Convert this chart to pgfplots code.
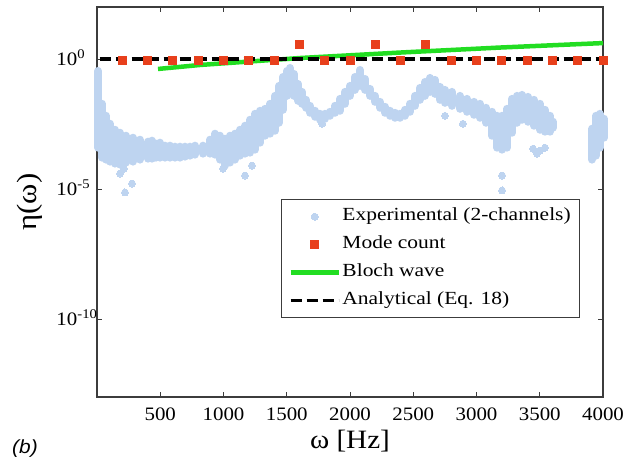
\documentclass[border=0pt]{standalone}
\usepackage{fontspec}
\setmainfont{Liberation Serif}[FakeStretch=1.1]
\newfontfamily\legfont{Liberation Serif}[FakeStretch=1.16]
\newfontfamily\bfont{Liberation Sans}[FakeStretch=1.1]
\usepackage{pgfplots}
\usepackage{pgfplotstable}
\pgfplotsset{compat=1.18}
\definecolor{bandblue}{RGB}{190,212,240}
\definecolor{modered}{RGB}{232,64,28}
\definecolor{blochgreen}{RGB}{34,221,34}
\definecolor{axisgray}{RGB}{60,60,60}
\pgfplotsset{
  dotlegend/.style={legend image code/.code={\path[draw=none,fill=none] (0bp,0bp) -- (48bp,0bp); \draw[##1] plot coordinates {(24bp,0bp)};}},
  linelegend/.style={legend image code/.code={\draw[##1] (0bp,0bp) -- (48bp,0bp);}},
}
% experimental cloud: for each frequency, lowest and highest value of the dense point cloud
\pgfplotstableread{
x y
8 3.89e-4
8 3.47e-1
8 nan
40 1.61e-4
40 1.89e-2
40 nan
71 1.35e-4
71 6.55e-3
71 nan
103 1.13e-4
103 3.23e-3
103 nan
142 9.48e-5
142 1.90e-3
142 nan
182 8.68e-5
182 1.46e-3
182 nan
229 1.04e-4
229 1.12e-3
229 nan
285 1.13e-4
285 9.40e-4
285 nan
340 1.35e-4
340 7.88e-4
340 nan
403 1.47e-4
403 6.61e-4
403 nan
435 1.47e-4
435 7.22e-4
435 nan
466 1.61e-4
466 5.54e-4
466 nan
498 1.61e-4
498 6.05e-4
498 nan
538 1.61e-4
538 4.64e-4
538 nan
577 1.61e-4
577 4.64e-4
577 nan
617 1.61e-4
617 4.25e-4
617 nan
656 1.61e-4
656 4.25e-4
656 nan
696 1.76e-4
696 4.25e-4
696 nan
735 1.92e-4
735 4.25e-4
735 nan
775 2.10e-4
775 4.64e-4
775 nan
838 2.29e-4
838 4.64e-4
838 nan
893 2.29e-4
893 7.88e-4
893 nan
933 2.10e-4
933 1.34e-3
933 nan
972 1.35e-4
972 1.12e-3
972 nan
1012 7.95e-5
1012 8.61e-4
1012 nan
1051 1.04e-4
1051 1.12e-3
1051 nan
1091 1.35e-4
1091 1.34e-3
1091 nan
1130 1.92e-4
1130 1.90e-3
1130 nan
1170 2.29e-4
1170 2.71e-3
1170 nan
1209 2.50e-4
1209 4.60e-3
1209 nan
1249 3.26e-4
1249 7.81e-3
1249 nan
1289 6.05e-4
1289 1.02e-2
1289 nan
1328 1.12e-3
1328 1.21e-2
1328 nan
1368 1.34e-3
1368 1.89e-2
1368 nan
1407 1.74e-3
1407 3.82e-2
1407 nan
1439 3.53e-3
1439 9.24e-2
1439 nan
1470 1.11e-2
1470 2.04e-1
1470 nan
1502 3.82e-2
1502 3.47e-1
1502 nan
1526 6.49e-2
1526 4.52e-1
1526 nan
1557 3.82e-2
1557 2.66e-1
1557 nan
1589 2.46e-2
1589 1.10e-1
1589 nan
1621 1.89e-2
1621 5.44e-2
1621 nan
1652 1.33e-2
1652 2.69e-2
1652 nan
1684 8.53e-3
1684 1.58e-2
1684 nan
1723 6.00e-3
1723 1.02e-2
1723 nan
1763 4.60e-3
1763 7.81e-3
1763 nan
1802 5.02e-3
1802 7.81e-3
1802 nan
1842 6.55e-3
1842 9.32e-3
1842 nan
1881 8.53e-3
1881 1.58e-2
1881 nan
1921 1.02e-2
1921 2.93e-2
1921 nan
1960 1.89e-2
1960 5.44e-2
1960 nan
2000 3.82e-2
2000 9.24e-2
2000 nan
2039 6.49e-2
2039 2.04e-1
2039 nan
2079 9.24e-2
2079 3.79e-1
2079 nan
2119 6.49e-2
2119 1.71e-1
2119 nan
2158 3.82e-2
2158 7.09e-2
2158 nan
2198 2.25e-2
2198 3.82e-2
2198 nan
2237 1.33e-2
2237 2.25e-2
2237 nan
2277 8.53e-3
2277 1.45e-2
2277 nan
2316 6.55e-3
2316 1.02e-2
2316 nan
2356 5.49e-3
2356 8.53e-3
2356 nan
2395 5.49e-3
2395 7.81e-3
2395 nan
2435 6.55e-3
2435 1.11e-2
2435 nan
2474 9.32e-3
2474 1.89e-2
2474 nan
2514 1.58e-2
2514 3.82e-2
2514 nan
2553 2.69e-2
2553 7.74e-2
2553 nan
2593 3.82e-2
2593 1.31e-1
2593 nan
2632 5.44e-2
2632 1.87e-1
2632 nan
2672 4.56e-2
2672 1.57e-1
2672 nan
2711 2.69e-2
2711 8.46e-2
2711 nan
2751 2.06e-2
2751 6.49e-2
2751 nan
2806 1.58e-2
2806 5.44e-2
2806 nan
2870 1.21e-2
2870 3.82e-2
2870 nan
2925 9.32e-3
2925 2.93e-2
2925 nan
2980 7.15e-3
2980 2.25e-2
2980 nan
3028 5.49e-3
3028 1.89e-2
3028 nan
3075 3.53e-3
3075 1.33e-2
3075 nan
3122 1.12e-3
3122 9.32e-3
3122 nan
3162 3.89e-4
3162 6.55e-3
3162 nan
3202 3.26e-4
3202 6.55e-3
3202 nan
3241 3.89e-4
3241 1.21e-2
3241 nan
3281 1.46e-3
3281 2.93e-2
3281 nan
3320 3.53e-3
3320 3.82e-2
3320 nan
3360 4.60e-3
3360 4.17e-2
3360 nan
3407 3.86e-3
3407 3.50e-2
3407 nan
3454 2.71e-3
3454 2.69e-2
3454 nan
3502 1.90e-3
3502 1.89e-2
3502 nan
3541 1.60e-3
3541 1.11e-2
3541 nan
3581 1.60e-3
3581 6.55e-3
3581 nan
3605 2.27e-3
3605 3.86e-3
3605 nan
3913 1.35e-4
3913 2.08e-3
3913 nan
3945 1.92e-4
3945 6.55e-3
3945 nan
3976 3.89e-4
3976 7.81e-3
3976 nan
4008 9.40e-4
4008 5.02e-3
}\cloud
\pgfplotstableread{
x y
182 3.93e-5
213 6.10e-5
277 1.62e-5
221 7.34e-6
996 6.10e-5
1170 3.29e-5
1225 7.95e-5
2751 6.55e-3
2893 3.23e-3
3202 3.29e-5
3202 8.76e-6
1779 3.23e-3
3447 3.56e-4
3502 2.99e-4
3541 3.89e-4
3478 2.29e-4
}\outliers
\begin{document}
\begin{tikzpicture}
\useasboundingbox (-97bp,-63bp) rectangle (537bp,397bp);
\begin{axis}[
  at={(0,0)}, anchor=south west,
  scale only axis, width=506bp, height=390bp,
  xmin=0, xmax=4000, ymode=log, ymin=1e-13, ymax=1e2,
  clip=false,
  unbounded coords=jump,
  axis line style={axisgray, line width=1.2bp},
  every tick/.style={axisgray, line width=1bp},
  major tick length=5bp,
  tick align=inside,
  xtick={500,1000,...,4000},
  ytick={1e-10,1e-5,1},
  yticklabels={10\textsuperscript{-10},10\textsuperscript{-5},10\textsuperscript{0}},
  yminorticks=false, xminorticks=false,
  /pgf/number format/assume math mode=true,
  /pgf/number format/1000 sep={},
  tick label style={font=\fontsize{19bp}{22bp}\selectfont},
  xticklabel style={anchor=base, inner sep=0pt, yshift=-23bp},
  yticklabel style={anchor=base west, inner sep=0pt, xshift=-40.7bp, yshift=-6.5bp},
  xlabel={ω [Hz]},
  xlabel style={at={(rel axis cs:0.5,0)}, anchor=base, yshift=-51bp, inner sep=0pt, font=\fontsize{26.5bp}{30bp}\selectfont},
  legend style={at={(0.3636,0.5077)}, anchor=north west, draw=axisgray, line width=1bp, inner xsep=7bp, inner ysep=7bp, row sep=7.5bp,
    font=\legfont\fontsize{18.5bp}{21bp}\selectfont, nodes={inner sep=1.5bp, text height=13bp, text depth=4.5bp}},
  legend cell align=left,
]
% Experimental cloud
\addplot[forget plot, bandblue, line width=8bp, line cap=round] table {\cloud};
\addplot[forget plot, only marks, mark=*, mark size=3.5bp, mark options={line width=0pt, draw=bandblue, fill=bandblue}] table {\outliers};
\addlegendimage{only marks, mark=*, mark size=3.5bp, mark options={line width=0pt, draw=bandblue, fill=bandblue}, dotlegend}
\addlegendentry{Experimental (2-channels)}
% Mode count
\addplot[only marks, mark=square*, mark size=4bp, mark options={line width=0pt, draw=modered, fill=modered}, dotlegend] coordinates {
(200,0.915)(400,0.915)(600,0.915)(800,0.915)(1000,0.915)(1200,0.915)(1400,0.915)(1600,3.76)(1800,0.915)(2000,0.915)
(2200,3.76)(2400,0.915)(2600,3.76)(2800,0.915)(3000,0.915)(3200,0.915)(3400,0.915)(3600,0.915)(3800,0.915)(4000,0.915)
};
\addlegendentry{Mode count}
% Bloch wave
\addplot[blochgreen, line width=4.5bp, linelegend] coordinates {
(482,0.414)(814,0.589)(1209,0.802)(1605,1.09)(2395,1.77)(3186,2.76)(4000,4.10)
};
\addlegendentry{Bloch wave}
% Analytical
\addplot[black, line width=3.5bp, dash pattern=on 11bp off 5bp, linelegend] coordinates {
(20,1)(4000,1)
};
\addlegendentry{Analytical (Eq. 18)}
\end{axis}
\node[rotate=90, anchor=base, inner sep=0pt, font=\fontsize{28bp}{32bp}\selectfont] at (-60bp,195bp) {η(ω)};
\node[font=\bfont\itshape\fontsize{19bp}{22bp}\selectfont, anchor=base, inner sep=0pt] at (-72bp,-56bp) {(b)};
\end{tikzpicture}
\end{document}
